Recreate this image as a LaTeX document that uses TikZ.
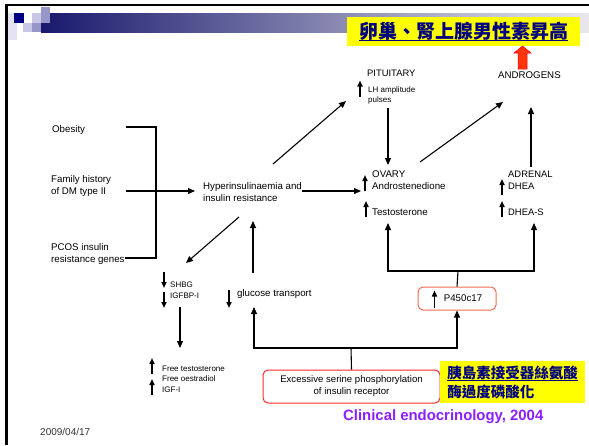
\documentclass[tikz,border=0pt]{standalone}
\usepackage{fontspec}
\setmainfont{Liberation Sans}
\newfontfamily\cjk{Noto Sans CJK TC}
\usetikzlibrary{arrows.meta,calc,positioning}
\definecolor{marinho}{RGB}{0,0,128}
\definecolor{amarelo}{RGB}{255,255,0}
\definecolor{roxo}{RGB}{140,30,255}
\definecolor{salmao}{RGB}{240,110,80}
\definecolor{vermelho}{RGB}{255,40,40}
\definecolor{lavanda}{RGB}{200,200,228}
\definecolor{lavandam}{RGB}{150,150,200}
\newcommand\sublinha[1]{\setbox0\hbox{#1}\rlap{\rule[-3pt]{\wd0}{1.4pt}}\box0}
\tikzset{%
  conecta/.style={draw=black,line width=1.1pt,arrows=-{Triangle[width=6pt,length=7pt]}},
  linha/.style={draw=black,line width=1.1pt},
  seta/.style={draw=black,line width=1.5pt,arrows=-{Triangle[width=5pt,length=6pt]}},
  rotulo/.style={anchor=west,inner sep=0pt,align=left,font=\fontsize{9.7}{12}\selectfont},
  miudo/.style={anchor=west,inner sep=0pt,align=left,font=\fontsize{8}{10.5}\selectfont},
  caixa/.style={draw=#1,line width=1pt,rounded corners=5pt,fill=white,align=center,inner sep=2pt},
  destaque/.style={fill=amarelo,text=marinho,inner sep=0pt,align=left}
}
\begin{document}
\begin{tikzpicture}[x=1pt,y=-1pt]
  \useasboundingbox (0,0) rectangle (589,445);
  % moldura e faixa do slide
  \shade[left color={rgb,255:red,25;green,25;blue,110},middle color={rgb,255:red,180;green,180;blue,200},
    right color={rgb,255:red,232;green,232;blue,236}] (41,13) rectangle (589,32);
  \fill[lavanda!50] (7,13) rectangle (17,40);
  \fill[marinho] (14,13) rectangle (24,23);
  \fill[lavanda] (32,13) rectangle (41,23);
  \fill[lavandam] (41,7) rectangle (50,23);
  \fill[lavanda] (23,23) rectangle (32,32);
  \fill[lavandam] (32,23) rectangle (41,32);
  \draw[line width=2.5pt] (6.5,445) -- (6.5,5) -- (589,5);

  % textos
  \node[rotulo] (obes) at (52,130) {Obesity};
  \node[rotulo] (famil) at (51,186) {Family history\\of DM type II};
  \node[rotulo] (pcos) at (51,254) {PCOS insulin\\resistance genes};
  \node[rotulo] (hiper) at (203,192) {Hyperinsulinaemia and\\insulin resistance};
  \node[rotulo,font=\fontsize{9.4}{12}\selectfont] (pitu) at (367,73) {PITUITARY};
  \node[miudo] (lh) at (368,95.5) {LH amplitude\\pulses};
  \node[rotulo] (ovario) at (372,180.5) {OVARY\\Androstenedione};
  \node[rotulo] (testo) at (372,212) {Testosterone};
  \node[rotulo,font=\fontsize{9.4}{12}\selectfont] (adrenal) at (508,180.5) {ADRENAL\\DHEA};
  \node[rotulo,font=\fontsize{9.4}{12}\selectfont] (dheas) at (508,212) {DHEA-S};
  \node[rotulo] (andro) at (498,75) {ANDROGENS};
  \node[miudo] (shbg) at (170,290) {SHBG\\IGFBP-I};
  \node[rotulo] (gluc) at (237,294) {glucose transport};
  \node[miudo] (free) at (162,379) {Free testosterone\\Free oestradiol\\IGF-I};
  \node[caixa=salmao,minimum width=78pt,minimum height=23pt,font=\fontsize{9.7}{12}\selectfont] (p450) at (457,298.5) {\hspace{12pt}P450c17};
  \node[caixa=vermelho,minimum width=177pt,minimum height=33pt,font=\fontsize{9.6}{12}\selectfont] (exc) at (351.5,386.5) {Excessive serine phosphorylation\\of insulin receptor};
  \node[destaque,minimum width=233pt,minimum height=29pt,font=\cjk\bfseries\fontsize{19}{22}\selectfont] (titulo) at (463.5,31.5) {\sublinha{卵巢、腎上腺男性素昇高}};
  \node[destaque,minimum width=145pt,minimum height=42pt,font=\cjk\bfseries\fontsize{14.5}{19}\selectfont] (nota) at (512.5,382) {\sublinha{胰島素接受器絲氨酸}\\酶過度磷酸化};
  \node[anchor=west,inner sep=0pt,text=roxo,font=\bfseries\fontsize{14.9}{16}\selectfont] (fonte) at (343,417) {Clinical endocrinology, 2004};
  \node[anchor=west,inner sep=0pt,text=black!80,font=\fontsize{10}{11}\selectfont] (data) at (40,432) {2009/04/17};

  % setinhas de aumento/diminuicao
  \draw[seta] ($(lh.west)+(-8,1)$) -- ++(0,-16);
  \draw[seta] ($(ovario.west)+(-7,10.5)$) -- ++(0,-16);
  \draw[seta] ($(testo.west)+(-6,5)$) -- ++(0,-16);
  \draw[seta] ($(adrenal.west)+(-6,14.5)$) -- ++(0,-16);
  \draw[seta] ($(dheas.west)+(-6,5)$) -- ++(0,-16);
  \draw[seta] ($(p450.west)+(17,9)$) -- ++(0,-17);
  \draw[seta] ($(shbg.west)+(-6,-18)$) -- ++(0,16);
  \draw[seta] ($(shbg.west)+(-6,2)$) -- ++(0,16);
  \draw[seta] ($(gluc.west)+(-8,-4)$) -- ++(0,18);
  \draw[seta] ($(free.west)+(-10,-5)$) -- ++(0,-16);
  \draw[seta] ($(free.west)+(-10,16)$) -- ++(0,-16);
  \shade[left color=vermelho,right color=vermelho,middle color=red!55!orange,draw=red,line width=0.5pt]
    (518,69) -- (518,53) -- (514,53) -- (522.5,46) -- (531,53) -- (527,53) -- (527,69) -- cycle;

  % conexoes
  \coordinate (chave) at (156,191);
  \coordinate (cob) at (126,127);
  \coordinate (cfam) at (126,191);
  \coordinate (cpc) at (125,258);
  \coordinate (ramo) at (458,271);
  \coordinate (base) at (351,348);
  \draw[linha] (cob) -| (chave) |- (cpc);
  \draw[conecta] (cfam) -- ($(hiper.west)+(-8,-1)$);
  \draw[conecta] ($(hiper.west)+(70,-28)$) -- ($(pitu.west)+(-21,28)$);
  \draw[conecta] ($(lh.west)+(20,12)$) -- ($(ovario.west)+(16,-15.5)$);
  \draw[conecta] ($(hiper.west)+(99,-1)$) -- ($(ovario.west)+(-11,10.5)$);
  \draw[conecta] ($(ovario.west)+(48,-18.5)$) -- ($(andro.west)+(5,27)$);
  \draw[conecta] ($(adrenal.west)+(23,-13.5)$) -- ($(andro.west)+(33,32)$);
  \draw[linha] (p450.north) -- (ramo);
  \draw[conecta] (ramo) -| ($(testo.west)+(16,11)$);
  \draw[conecta] (ramo) -| ($(dheas.west)+(26,11)$);
  \draw[linha] (exc.north) -- (base);
  \draw[conecta] (base) -| ($(gluc.west)+(17,13)$);
  \draw[conecta] (base) -| (p450.south);
  \draw[conecta] ($(gluc.west)+(16,-21)$) -- ($(hiper.west)+(50,29)$);
  \draw[conecta] ($(hiper.west)+(36,25)$) -- ($(shbg.west)+(16,-27)$);
  \draw[conecta] ($(shbg.west)+(10,17)$) -- ($(free.west)+(18,-31)$);
\end{tikzpicture}
\end{document}
